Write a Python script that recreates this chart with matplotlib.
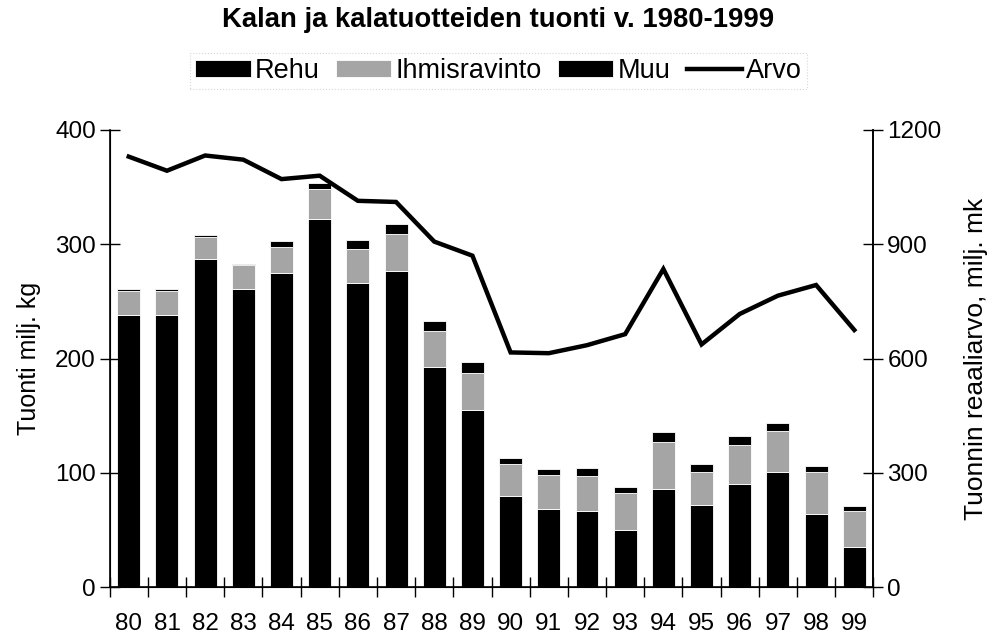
import matplotlib
matplotlib.use("Agg")
import matplotlib.pyplot as plt
import numpy as np

plt.rcParams['font.family'] = ['Liberation Sans', 'DejaVu Sans']

years = ["80", "81", "82", "83", "84", "85", "86", "87", "88", "89",
         "90", "91", "92", "93", "94", "95", "96", "97", "98", "99"]
rehu = [238, 238, 287, 261, 275, 322, 266, 277, 193, 155,
        80, 68, 67, 50, 86, 72, 90, 101, 64, 35]
ihmisravinto = [21, 21, 19, 21, 23, 26, 30, 32, 31, 32,
                28, 30, 30, 32, 41, 29, 34, 36, 37, 32]
muu = [2, 2, 2, 1, 5, 6, 8, 9, 9, 10,
       5, 5, 7, 6, 9, 7, 8, 7, 5, 4]
arvo = [1130, 1093, 1133, 1122, 1071, 1080, 1014, 1011, 907, 870,
        616, 614, 635, 664, 835, 637, 717, 765, 793, 675]

FS = 17.5
fig = plt.figure(figsize=(9.97, 6.34), dpi=100)
ax = fig.add_axes([0.110, 0.074, 0.766, 0.721])
x = np.arange(len(years))
w = 0.6
rehu_a = np.array(rehu)
ihm_a = np.array(ihmisravinto)
muu_a = np.array(muu)
b1 = ax.bar(x, rehu_a, w, color='black', edgecolor='white', linewidth=0.6, label='Rehu')
b2 = ax.bar(x, ihm_a, w, bottom=rehu_a, color='#a5a5a5', edgecolor='white', linewidth=0.6,
            label='Ihmisravinto')
b3 = ax.bar(x, muu_a, w, bottom=rehu_a + ihm_a, color='black', edgecolor='white', linewidth=0.6,
            label='Muu')

ax.set_xlim(-0.5, len(years) - 0.5)
ax.set_ylim(0, 400)
ax.set_yticks([0, 100, 200, 300, 400])
ax.set_xticks(x)
ax.set_xticklabels(years)
ax.set_xticks(np.arange(-0.5, len(years), 1), minor=True)
ax.tick_params(axis='x', which='major', length=0, labelsize=FS, pad=19)
ax.tick_params(axis='x', which='minor', length=14, direction='inout', width=1)
ax.tick_params(axis='y', length=14, direction='inout', width=1, labelsize=FS, pad=3)
ax.spines['top'].set_visible(False)
for s in ['left', 'right', 'bottom']:
    ax.spines[s].set_linewidth(1.2)
ax.set_ylabel('Tuonti milj. kg', fontsize=18, labelpad=10)

ax2 = ax.twinx()
l1, = ax2.plot(x, arvo, color='black', linewidth=3.2, label='Arvo', solid_joinstyle='miter')
ax2.set_ylim(0, 1200)
ax2.set_yticks([0, 300, 600, 900, 1200])
ax2.tick_params(axis='y', length=14, direction='inout', width=1, labelsize=FS, pad=3)
ax2.spines['top'].set_visible(False)
ax2.spines['right'].set_linewidth(1.2)
ax2.set_ylabel('Tuonnin reaaliarvo, milj. mk', fontsize=19, labelpad=16)

fig.text(0.5, 1 - 20 / 634, 'Kalan ja kalatuotteiden tuonti v. 1980-1999', fontsize=19.8,
         fontweight='bold', ha='center', va='center')

leg = fig.legend([b1, b2, b3, l1], ['Rehu', 'Ihmisravinto', 'Muu', 'Arvo'],
                 loc='center', bbox_to_anchor=(0.5, 1 - 71 / 634), ncol=4, fontsize=19.5,
                 frameon=True, fancybox=False, handlelength=2.05, handleheight=0.6,
                 handletextpad=0.15, columnspacing=0.6, borderpad=0.2)
leg.get_frame().set_edgecolor('#cccccc')
leg.get_frame().set_linestyle(':')
leg.get_frame().set_linewidth(0.8)

fig.savefig('out.png', dpi=100)
